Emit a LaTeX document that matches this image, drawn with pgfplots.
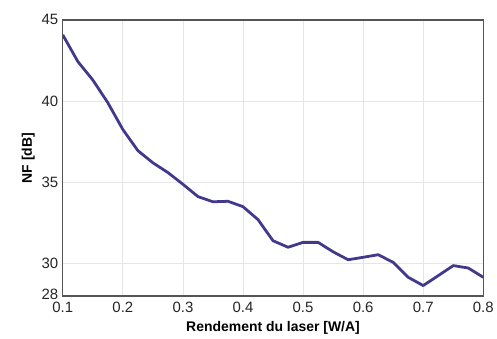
\documentclass[border=0pt]{standalone}
\usepackage{pgfplots}
\pgfplotsset{compat=1.18}
\usepackage{fontspec}
\setmainfont{Liberation Sans}
\definecolor{lineC}{RGB}{66,56,140}
\definecolor{gridC}{RGB}{230,230,230}
\definecolor{axC}{RGB}{85,85,85}
\begin{document}
\begin{tikzpicture}
\begin{axis}[
  scale only axis,
  width=422pt, height=277pt,
  xmin=0.1, xmax=0.8, ymin=28, ymax=45,
  xtick={0.1,0.2,...,0.8},
  ytick={28,30,35,40,45},
  xticklabels={0.1,0.2,0.3,0.4,0.5,0.6,0.7,0.8},
  yticklabels={\raisebox{3pt}{28},30,35,40,45},
  major tick length=0pt,
  grid=major,
  major grid style={gridC, line width=0.8pt},
  axis line style={axC, line width=1.3pt},
  /pgf/number format/assume math mode=true,
  tick label style={font=\fontsize{15}{15}\selectfont, text=black!85},
  xticklabel style={yshift=-3pt},
  yticklabel style={xshift=-1pt},
  xlabel={\textbf{Rendement du laser [W/A]}},
  ylabel={\textbf{NF [dB]}},
  label style={font=\fontsize{14}{14}\selectfont},
  xlabel style={yshift=-2pt},
  ylabel style={yshift=0pt},
]
\addplot[lineC, line width=2.8pt, line join=round] coordinates {
(0.1,44.08) (0.125,42.44) (0.15,41.3) (0.175,39.9) (0.2,38.25)
(0.225,36.95) (0.25,36.2) (0.275,35.6) (0.3,34.88) (0.325,34.12)
(0.35,33.8) (0.375,33.83) (0.4,33.5) (0.425,32.7) (0.45,31.4)
(0.475,31.0) (0.5,31.3) (0.525,31.3) (0.55,30.72) (0.575,30.23)
(0.6,30.38) (0.625,30.54) (0.65,30.07) (0.675,29.15) (0.7,28.64)
(0.725,29.25) (0.75,29.87) (0.775,29.72) (0.8,29.15)
};
\end{axis}
\path ([shift={(-63pt,-41pt)}]current axis.south west) rectangle ([shift={(12pt,20pt)}]current axis.north east);
\end{tikzpicture}
\end{document}
